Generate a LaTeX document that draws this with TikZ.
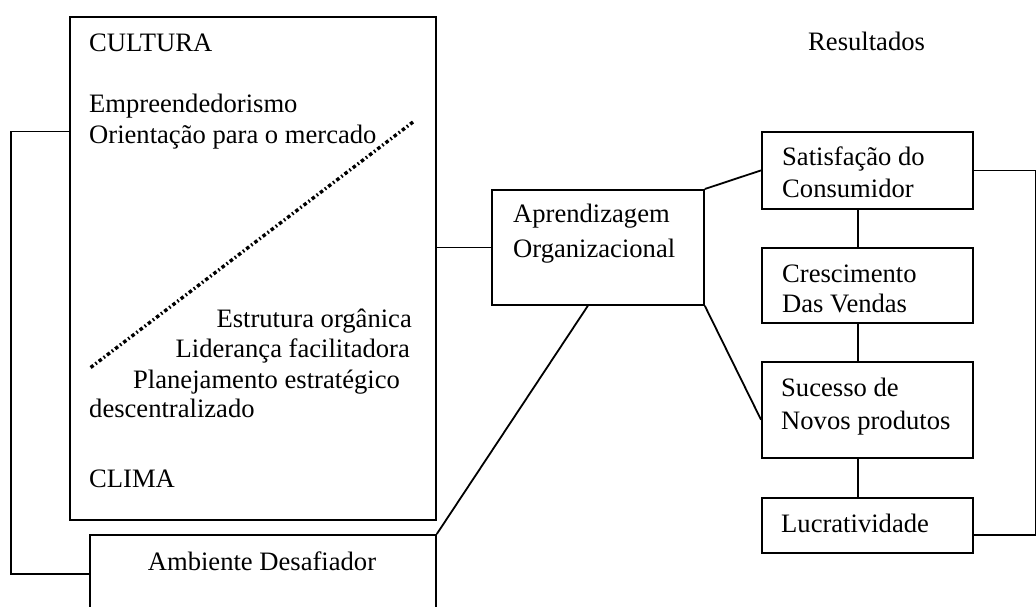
\documentclass[tikz,border=0pt]{standalone}
\usepackage{fontspec}
\setmainfont{Liberation Serif}
\usetikzlibrary{calc}
\begin{document}
\begin{tikzpicture}[x=1pt,y=-1pt,
  box/.style={draw,line width=1.8pt,rectangle,inner sep=0pt,anchor=north west},
  lbl/.style={inner sep=0pt,anchor=base west,font=\fontsize{26.6}{30}\selectfont},
  lblr/.style={inner sep=0pt,anchor=base east,font=\fontsize{26.6}{30}\selectfont},
  conn/.style={line width=1.8pt},
  dotline/.style={line width=3.4pt,dash pattern=on 3.5pt off 2.6pt on 1.6pt off 2.6pt}]
\useasboundingbox (0,0) rectangle (1036,606);
\clip (0,0) rectangle (1036,606);
% boxes
\node[box,minimum width=366pt,minimum height=503pt] (cul) at (69,16) {};
\node[box,minimum width=346pt,minimum height=78pt] (amb) at (89,534) {};
\node[box,minimum width=212pt,minimum height=115pt] (apr) at (491,189) {};
\node[box,minimum width=211pt,minimum height=77pt] (sat) at (761,131) {};
\node[box,minimum width=211pt,minimum height=75pt] (cre) at (761,247) {};
\node[box,minimum width=211pt,minimum height=96pt] (suc) at (761,361) {};
\node[box,minimum width=211pt,minimum height=55pt] (luc) at (761,497) {};
% texts
\node[lbl] (t1) at (89,51) {CULTURA};
\node[lbl] (t2) at (89,112) {Empreendedorismo};
\node[lbl] (t3) at (89,143) {Orientação para o mercado};
\node[lblr] (t4) at (412,327) {Estrutura orgânica};
\node[lblr] (t5) at (410,357) {Liderança facilitadora};
\node[lbl] (t6) at (133,388) {Planejamento estratégico};
\node[lbl] (t7) at (89,417) {descentralizado};
\node[lbl] (t8) at (89,487) {CLIMA};
\node[lbl,anchor=base] (t9) at (262,570) {Ambiente Desafiador};
\node[lbl] (t10) at (808,50) {Resultados};
\node[lbl] (t11) at (513,222) {Aprendizagem};
\node[lbl] (t12) at (513,257) {Organizacional};
\node[lbl] (t13) at (782,165) {Satisfação do};
\node[lbl] (t14) at (782,197) {Consumidor};
\node[lbl] (t15) at (782,282) {Crescimento};
\node[lbl] (t16) at (782,312) {Das Vendas};
\node[lbl] (t17) at (781,396) {Sucesso de};
\node[lbl] (t18) at (781,429) {Novos produtos};
\node[lbl] (t19) at (781,532) {Lucratividade};
% dotted diagonal
\coordinate (d1) at (413,122);
\coordinate (d2) at (90,368);
\draw[dotline] (d1) -- (d2);
% connectors
\coordinate (lc) at ($(cul.north west)!0.2286!(cul.south west)$);
\coordinate (lx) at (11,0);
\draw[conn] (lc) -- (lc -| lx) -- (amb.west -| lx) -- (amb.west);
\draw[conn] (apr.west) -- (apr.west -| cul.east);
\draw[conn] (apr.north east) -- (sat.west);
\draw[conn] (apr.south east) -- ($(suc.north west)!0.6!(suc.south west)$);
\draw[conn] ($(apr.south west)!0.453!(apr.south east)$) -- (amb.north east);
\coordinate (vx) at ($(sat.south west)!0.455!(sat.south east)$);
\draw[conn] (vx) -- (vx |- cre.north);
\draw[conn] (vx |- cre.south) -- (vx |- suc.north);
\draw[conn] (vx |- suc.south) -- (vx |- luc.north);
\coordinate (rx) at (1036,0);
\coordinate (lr) at ($(luc.north east)!0.67!(luc.south east)$);
\draw[conn] (sat.east) -- (sat.east -| rx) -- (lr -| rx) -- (lr);
\end{tikzpicture}
\end{document}
